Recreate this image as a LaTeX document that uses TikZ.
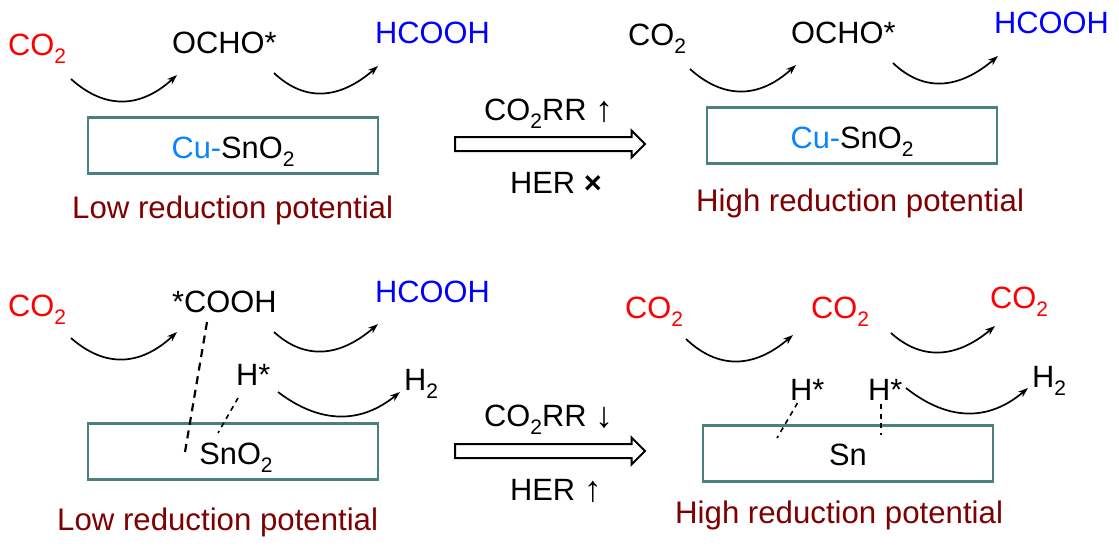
\documentclass[tikz,border=0pt]{standalone}
\usepackage{fontspec}
\setmainfont{Liberation Sans}
\usetikzlibrary{calc,shapes.arrows,arrows.meta}
\definecolor{teal1}{HTML}{4A8080}
\definecolor{cured}{HTML}{7F0000}
\definecolor{cublue}{HTML}{0A84FF}
\newcommand{\subtwo}{\raisebox{-0.28em}{\fontsize{21}{21}\selectfont 2}}
\newcommand{\bigar}[1]{\raisebox{-0.06em}{\fontsize{36}{36}\selectfont #1}}
% curved reaction arrow: name, start, lowest point, end
\newcommand{\reactarrow}[4]{%
  \coordinate (#1s) at #2;
  \coordinate (#1e) at #4;
  \coordinate (#1c) at ($2*#3-0.5*#2-0.5*#4$);
  \draw[reactline] (#1s) .. controls ($(#1s)!0.667!(#1c)$) and ($(#1e)!0.667!(#1c)$) .. (#1e);
}
\tikzset{
  lab/.style={anchor=base west,inner sep=0pt,font=\fontsize{30.8}{36}\selectfont},
  captext/.style={anchor=base west,inner sep=0pt,text=cured,font=\fontsize{31.2}{36}\selectfont},
  reactline/.style={line width=1.7pt,-{Stealth[length=10pt,width=7pt,inset=3pt]}},
  surface/.style={draw=teal1,line width=2.8pt,minimum width=290pt,minimum height=56pt,inner sep=0pt,text height=25pt,text depth=0pt,font=\fontsize{30.8}{36}\selectfont},
  bigarrow/.style={draw=black,line width=2pt,fill=white,single arrow,inner sep=6pt,minimum height=190pt,single arrow head extend=6.5pt,single arrow tip angle=90,anchor=west},
  bond/.style={line width=2.2pt,dash pattern=on 8pt off 5.75pt},
  thinbond/.style={line width=1.6pt,dash pattern=on 5pt off 4.5pt},
}
\begin{document}
\begin{tikzpicture}[x=1pt,y=-1pt]
\useasboundingbox (0,0) rectangle (1119,547);
% top left
\node[lab,text=red] (a1) at (8,55) {CO\subtwo};
\node[lab] (a2) at (172,53) {OCHO*};
\node[lab,text=blue] (a3) at (375,43) {HCOOH};
\reactarrow{aa}{(71,79)}{(123,101)}{(177,75)}
\reactarrow{ab}{(274,73)}{(323,93)}{(378,66)}
\node[surface] (abox) at (233,145.5) {\textcolor{cublue}{Cu-}SnO\subtwo};
\node[captext] (acap) at (72,218) {Low reduction potential};
% top right
\node[lab] (b1) at (628,45) {CO\subtwo};
\node[lab] (b2) at (791,43) {OCHO*};
\node[lab,text=blue] (b3) at (994,33) {HCOOH};
\reactarrow{ba}{(690,69)}{(742,91)}{(796,65)}
\reactarrow{bb}{(893,63)}{(942,83)}{(998,56)}
\node[surface] (bbox) at (852,135.5) {\textcolor{cublue}{Cu-}SnO\subtwo};
\node[captext] (bcap) at (696,211) {High reduction potential};
% middle top
\node[lab] (m1) at (484,120) {CO\subtwo RR \bigar{↑}};
\node[bigarrow] (m2) at (454,144) {};
\node[lab] (m3) at (510,193) {HER \textbf{×}};
% bottom left
\node[lab,text=red] (c1) at (8,316) {CO\subtwo};
\node[lab] (c2) at (172,312) {*COOH};
\node[lab,text=blue] (c3) at (375,302) {HCOOH};
\node[lab] (c4) at (236,385) {H*};
\node[lab] (c5) at (404,390) {H\subtwo};
\reactarrow{ca}{(71,338)}{(123,359)}{(177,332)}
\reactarrow{cb}{(274,332)}{(323,351)}{(378,324)}
\reactarrow{cc}{(278,392)}{(340,416)}{(400,392)}
\node[surface] (cbox) at (233,451.5) {\hspace*{6pt}SnO\subtwo};
\coordinate (cd1) at (207,322);
\coordinate (cd2) at (185,452);
\coordinate (cd3) at (238,398);
\coordinate (cd4) at (218,433);
\draw[bond] (cd1) -- (cd2);
\draw[thinbond] (cd3) -- (cd4);
\node[captext] (ccap) at (57,530) {Low reduction potential};
% bottom right
\node[lab,text=red] (d1) at (625,318) {CO\subtwo};
\node[lab,text=red] (d2) at (811,318) {CO\subtwo};
\node[lab,text=red] (d3) at (990,308) {CO\subtwo};
\node[lab] (d4) at (790,400) {H*};
\node[lab] (d5) at (868,400) {H*};
\node[lab] (d6) at (1032,387) {H\subtwo};
\reactarrow{da}{(686,339)}{(737,361)}{(793,335)}
\reactarrow{db}{(891,333)}{(940,352)}{(995,326)}
\reactarrow{dc}{(906,388)}{(968,413)}{(1028,388)}
\node[surface,text height=24pt] (dbox) at (848,453.5) {Sn};
\coordinate (dd1) at (797.5,403);
\coordinate (dd2) at (777,438);
\coordinate (dd3) at (881,404);
\coordinate (dd4) at (881,435);
\draw[thinbond] (dd1) -- (dd2);
\draw[thinbond] (dd3) -- (dd4);
\node[captext] (dcap) at (675,523) {High reduction potential};
% middle bottom
\node[lab] (n1) at (484,426) {CO\subtwo RR \bigar{↓}};
\node[bigarrow] (n2) at (454,451) {};
\node[lab] (n3) at (510,500) {HER \bigar{↑}};
\end{tikzpicture}
\end{document}
